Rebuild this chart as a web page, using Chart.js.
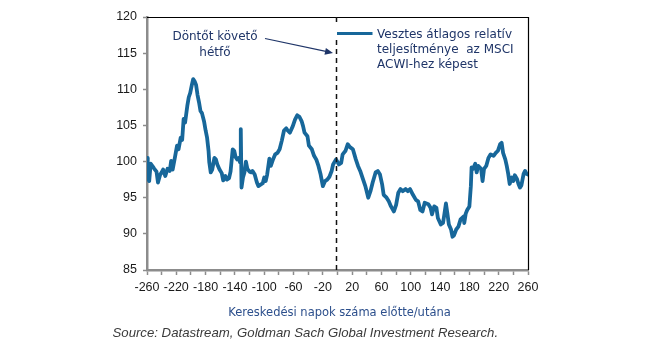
<!DOCTYPE html>
<html>
<head>
<meta charset="utf-8">
<script src="https://cdn.jsdelivr.net/npm/chart.js@4.4.1/dist/chart.umd.min.js"></script>
<style>
html,body{margin:0;padding:0;background:#fff;}
#wrap{width:645px;height:355px;position:relative;}
</style>
</head>
<body>
<div id="wrap"><canvas id="c" width="645" height="355"></canvas></div>
<script>
// Trading days before/after the event
const days = [-260,-259,-257,-255,-252,-250,-247,-245,-242,-240,-238,-235,-232,-229,-227,-225,-222,-219,-217,-214,-212,-210,-208,-205,-203,-201,-199,-197,-195,-193,-191,-189,-187,-185,-182,-180,-178,-176,-175,-173,-171,-168,-166,-164,-161,-158,-156,-153,-151,-148,-146,-143,-141,-139,-137,-135,-133,-132,-131,-129,-127,-125,-123,-120,-118,-116,-113,-110,-108,-105,-102,-100,-98,-96,-93,-91,-88,-85,-82,-79,-76,-73,-70,-68,-65,-61,-58,-55,-52,-49,-47,-45,-41,-39,-35,-32,-29,-26,-23,-20,-17,-14,-11,-8,-6,-2,2,5,7,11,14,17,21,25,28,31,35,38,42,45,48,52,55,58,61,63,67,70,73,77,80,83,86,89,93,96,99,103,107,110,113,116,119,124,127,129,132,135,137,141,144,146,148,150,152,155,157,159,162,165,168,172,173,175,177,180,182,183,185,188,190,192,196,198,200,203,206,209,213,216,219,222,224,226,229,231,233,235,238,240,242,245,247,249,251,254,256,258,260];
// Average relative performance of losers vs MSCI ACWI
const values = [100.5,97.8,97.3,99.7,99.3,99.0,98.6,97.1,98.2,98.5,98.9,98.0,99.0,98.7,100.1,98.9,100.5,102.2,101.7,103.3,103.0,105.9,105.4,107.7,108.9,109.5,110.5,111.4,111.1,110.6,109.2,108.2,107.0,106.7,105.5,104.3,103.3,101.5,99.9,98.5,98.9,100.5,100.3,99.6,98.9,98.4,97.4,98.0,97.5,97.7,98.6,101.7,101.5,100.6,100.3,100.5,99.9,104.5,96.4,97.8,98.5,100.0,99.0,98.6,98.5,98.7,98.2,97.1,96.6,96.8,97.0,97.8,97.3,98.2,100.4,99.4,100.3,101.0,101.2,101.7,102.9,104.3,104.6,104.3,104.0,104.9,105.8,106.4,106.2,105.6,104.9,104.0,103.5,102.2,101.7,100.8,100.3,99.4,98.2,96.6,97.3,97.5,97.9,98.7,99.6,100.3,99.6,99.8,101.0,101.5,102.4,102.0,101.7,100.3,99.4,98.7,97.5,96.6,95.0,95.9,97.1,98.5,98.7,98.2,96.8,95.4,95.0,94.5,93.8,93.1,94.0,95.7,96.2,95.9,96.2,95.9,96.2,95.4,94.7,94.5,93.3,93.1,94.3,94.1,93.6,92.7,93.8,93.6,92.2,91.3,91.5,92.8,94.2,92.8,91.3,90.6,89.6,89.8,90.6,91.0,92.0,92.4,91.5,92.8,93.3,93.8,96.6,99.2,99.0,99.7,98.5,99.4,99.0,97.3,99.0,99.4,100.5,101.0,100.8,101.2,101.5,102.4,102.6,101.2,100.3,99.4,98.3,96.9,97.8,97.3,98.1,97.6,96.9,96.4,96.7,98.3,98.7,98.3,98.2];
const xLabelValues = [-260,-220,-180,-140,-100,-60,-20,20,60,100,140,180,220,260];
const yTicks = [85,90,95,100,105,110,115,120];

const legendLines = ['Vesztes átlagos relatív','teljesítménye  az MSCI','ACWI-hez képest'];
const noteLines = ['Döntőt követő','hétfő'];
const xTitle = 'Kereskedési napok száma előtte/utána';
const sourceText = 'Source: Datastream, Goldman Sach Global Investment Research.';

const SERIES = '#17679a';
const NAVY = '#1f3568';

const points = days.map((d,i)=>({x:d,y:values[i]}));

const deco = {
  id:'deco',
  afterDatasetsDraw(chart){
    const {ctx, chartArea:a, scales:{x,y}} = chart;
    ctx.save();
    // top and right frame
    ctx.strokeStyle='#000'; ctx.lineWidth=1.2;
    ctx.beginPath();
    ctx.moveTo(a.left, a.top+0.5); ctx.lineTo(a.right+0.5, a.top+0.5); ctx.lineTo(a.right+0.5, a.bottom);
    ctx.stroke();
    // dashed vertical line at day 0
    const x0 = Math.round(x.getPixelForValue(0))-1.5;
    ctx.setLineDash([5,4]); ctx.lineWidth=1.5; ctx.strokeStyle='#111';
    ctx.beginPath(); ctx.moveTo(x0, a.top); ctx.lineTo(x0, a.top+6);
    ctx.moveTo(x0, 40); ctx.lineTo(x0, a.bottom); ctx.stroke();
    ctx.setLineDash([]);
    // legend
    ctx.strokeStyle=SERIES; ctx.lineWidth=3.2;
    ctx.beginPath(); ctx.moveTo(337,33.5); ctx.lineTo(372.5,33.5); ctx.stroke();
    ctx.fillStyle=NAVY; ctx.font='12px "DejaVu Sans"'; ctx.textAlign='left'; ctx.textBaseline='alphabetic';
    legendLines.forEach((t,i)=>ctx.fillText(t,377,37.5+i*15.3));
    // note
    ctx.textAlign='center';
    noteLines.forEach((t,i)=>ctx.fillText(t,215,40+i*16));
    // arrow
    ctx.strokeStyle=NAVY; ctx.lineWidth=1.2;
    const x1=265,y1=38.5,x2=333,y2=53;
    ctx.beginPath(); ctx.moveTo(x1,y1); ctx.lineTo(x2-6,y2-1.3); ctx.stroke();
    const ang=Math.atan2(y2-y1,x2-x1);
    ctx.beginPath();
    ctx.moveTo(x2,y2);
    ctx.lineTo(x2-8*Math.cos(ang)+3.5*Math.sin(ang), y2-8*Math.sin(ang)-3.5*Math.cos(ang));
    ctx.lineTo(x2-8*Math.cos(ang)-3.5*Math.sin(ang), y2-8*Math.sin(ang)+3.5*Math.cos(ang));
    ctx.closePath(); ctx.fillStyle=NAVY; ctx.fill();
    // x title
    ctx.fillStyle='#2c4f8c'; ctx.font='11.5px "DejaVu Sans"'; ctx.textAlign='center';
    ctx.fillText(xTitle, 339.5, 315.5);
    // source
    ctx.fillStyle='#3a3a3a'; ctx.font='italic 13.2px "Liberation Sans"'; ctx.textAlign='left';
    ctx.fillText(sourceText, 112.5, 337);
    ctx.restore();
  }
};

new Chart(document.getElementById('c'), {
  type:'line',
  data:{datasets:[{data:points, borderColor:SERIES, borderWidth:3.8, pointRadius:0, tension:0, fill:false, borderJoinStyle:'round', borderCapStyle:'round'}]},
  options:{
    responsive:false, animation:false, devicePixelRatio:1,
    layout:{padding:{left:0,right:117,top:17,bottom:0}},
    plugins:{legend:{display:false}, tooltip:{enabled:false}},
    scales:{
      x:{type:'linear', min:-260, max:260,
        afterBuildTicks(s){ const t=[]; for(let v=-260; v<=260; v+=20) t.push({value:v}); s.ticks=t; },
        afterFit(s){ s.height=85; },
        ticks:{autoSkip:false, maxRotation:0, padding:5, color:'#1a1a1a', font:{family:'"Liberation Sans"', size:12.5},
          callback:(v)=> xLabelValues.includes(v) ? String(v) : ''},
        grid:{drawOnChartArea:false, drawTicks:true, tickLength:5, tickWidth:1.5, tickColor:'#8c8c8c'},
        border:{color:'#8c8c8c', width:2.5}
      },
      y:{type:'linear', min:85, max:120,
        afterBuildTicks(s){ s.ticks=yTicks.map(v=>({value:v})); },
        afterFit(s){ s.width=147; },
        ticks:{padding:6, color:'#1a1a1a', font:{family:'"Liberation Sans"', size:12.5}},
        grid:{drawOnChartArea:false, drawTicks:true, tickLength:4, tickWidth:1.5, tickColor:'#8c8c8c'},
        border:{color:'#8c8c8c', width:2.5}
      }
    }
  },
  plugins:[deco]
});
</script>
</body>
</html>
